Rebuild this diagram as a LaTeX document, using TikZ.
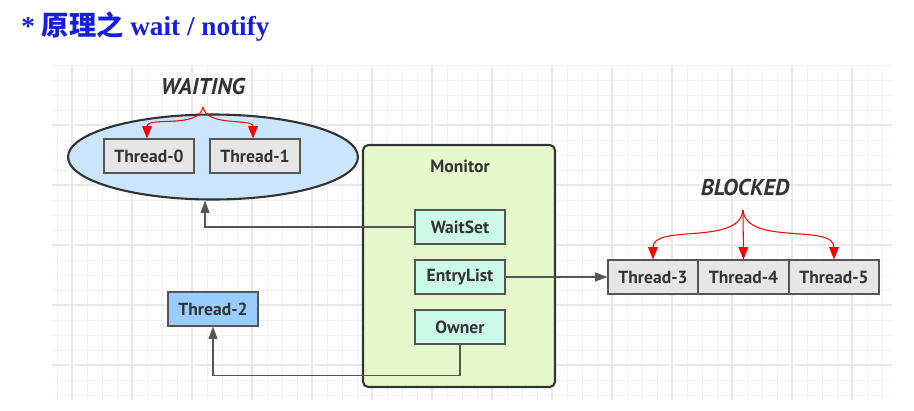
\documentclass[tikz,border=0pt]{standalone}
\usepackage{fontspec}
\setmainfont{Liberation Serif}
\newfontfamily\uifont{PT Sans}
\newfontfamily\cjk{Noto Sans CJK SC}
\usepackage{tikz}
\usetikzlibrary{calc,arrows.meta,shapes.geometric}

\definecolor{titleblue}{RGB}{20,30,230}
\definecolor{waitblue}{RGB}{204,229,255}
\definecolor{threadgray}{RGB}{230,230,230}
\definecolor{monitorgreen}{RGB}{230,249,204}
\definecolor{slotmint}{RGB}{204,250,232}
\definecolor{ownerblue}{RGB}{153,204,255}
\definecolor{edgegray}{RGB}{85,85,85}
\definecolor{textdark}{RGB}{51,51,51}

\tikzset{
  thread/.style={draw=edgegray,fill=threadgray,line width=0.6pt,minimum width=1.8cm,
    minimum height=0.68cm,inner sep=0pt,font=\uifont\bfseries\fontsize{10}{11}\selectfont,text=textdark},
  slot/.style={thread,fill=slotmint},
  state/.style={font=\uifont\bfseries\itshape\fontsize{13}{14}\selectfont,text=textdark},
  link/.style={draw=edgegray,line width=0.6pt,-{Triangle[length=7pt,width=5pt]}},
  pick/.style={draw=red,line width=0.6pt,-{Triangle[length=7pt,width=5.5pt]}}
}

\begin{document}
\begin{tikzpicture}[x=0.02cm,y=-0.02cm]
\useasboundingbox (0,0) rectangle (914,410);
%% grid in the back, thin lines then the heavier ones
\foreach \i in {0,...,55}{
  \draw[black!5,line width=0.5pt] (57+15*\i,67) -- (57+15*\i,400);
}
\foreach \j in {0,...,22}{
  \draw[black!5,line width=0.5pt] (52,65+15*\j) -- (892,65+15*\j);
}
\foreach \i in {0,...,13}{
  \draw[black!9,line width=0.6pt] (72+60*\i,67) -- (72+60*\i,400);
}
\foreach \j in {0,...,4}{
  \draw[black!9,line width=0.6pt] (52,125+60*\j) -- (892,125+60*\j);
}

%% title
\node[anchor=west,text=titleblue,font=\bfseries\fontsize{15.5}{18}\selectfont,inner sep=0pt] (title) at (21,27)
  {* {\cjk\bfseries 原理之} wait / notify};

%% waiting side
\node[draw=textdark,fill=waitblue,line width=1.2pt,ellipse,minimum width=5.8cm,minimum height=1.7cm] (waiting) at (213,157){};
\node[state] (wlabel) at (203,87){WAITING};
\node[thread] (t0) at (149,156){Thread-0};
\node[thread] (t1) at (255,156){Thread-1};
\coordinate (wfork) at (203,107);
\draw[pick] (wfork) to[out=-100,in=90,looseness=0.9] ($(t0.north)+(-2,0)$);
\draw[pick] (wfork) to[out=-80,in=90,looseness=0.9] ($(t1.north)+(-2,0)$);

%% monitor with its three slots
\node[draw=textdark,fill=monitorgreen,line width=1.2pt,rounded corners=3pt,minimum width=3.84cm,minimum height=4.84cm] (monitor) at (459,266){};
\node[font=\uifont\bfseries\fontsize{10}{11}\selectfont,text=textdark] (mlabel) at (460,166){Monitor};
\node[slot] (waitset) at (460,227){WaitSet};
\node[slot] (entrylist) at (460,277){EntryList};
\node[slot] (owner) at (460,327){Owner};

%% owner thread
\node[thread,fill=ownerblue] (t2) at (213,309){Thread-2};

%% blocked side, drawn with a loop
\node[state] (blabel) at (745,188){BLOCKED};
\foreach \i/\x in {3/653,4/743.5,5/834}{
  \node[thread] (t\i) at (\x,277){Thread-\i};
}
\coordinate (bfork) at (743,210);
\draw[pick] (bfork) to[out=-95,in=90,looseness=0.9] (t3.north);
\draw[pick] (bfork) -- (t4.north);
\draw[pick] (bfork) to[out=-85,in=90,looseness=0.9] (t5.north);

%% links out of the monitor
\draw[link] (waitset.west) -| ($(waiting.south)+(-8,0)$);
\draw[link] (entrylist.east) -- (t3.west);
\draw[link] (owner.south) -- ++(0,31) -| (t2.south);
\end{tikzpicture}
\end{document}
